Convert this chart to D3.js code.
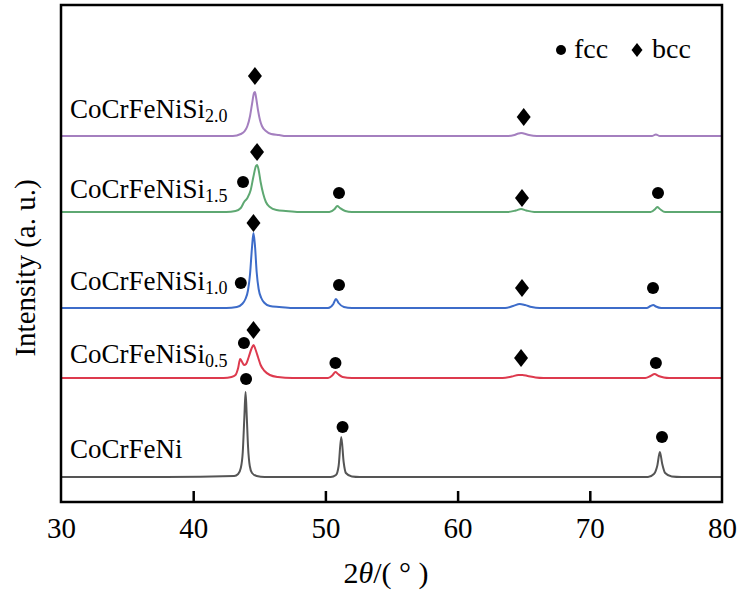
<!DOCTYPE html>
<html>
<head>
<meta charset="utf-8">
<script src="https://cdn.jsdelivr.net/npm/d3@7"></script>
<style>
  html, body { margin: 0; padding: 0; background: #fff; }
  svg { display: block; }
  text { font-family: "Liberation Serif", "Times New Roman", serif; fill: #000; }
</style>
</head>
<body>
<svg id="chart" width="742" height="594"></svg>
<script>
// X-ray diffraction patterns of CoCrFeNiSi_x alloys (stacked, arbitrary units)

const xTicks = [30, 40, 50, 60, 70, 80];

const sampleNames = ["CoCrFeNi", "CoCrFeNiSi", "CoCrFeNiSi", "CoCrFeNiSi", "CoCrFeNiSi"];
const sampleSubs  = ["", "0.5", "1.0", "1.5", "2.0"];
const sampleColors = ["#555555", "#dd3a4e", "#3d6cc9", "#5ea872", "#a47fbf"];
const labelY = [44, 139, 212, 304, 384];

// [2θ, intensity] pairs for each pattern (already offset for stacking)
const patternCoCrFeNi = [
  [30, 25], [38, 25], [43.1, 26], [43.4, 28], [43.6, 34], [43.75, 50], [43.87, 85], [43.96, 110],
  [44.05, 86], [44.15, 55], [44.28, 36], [44.45, 29], [44.8, 26], [45.4, 25], [50.4, 25],
  [50.8, 27], [51.0, 36], [51.2, 65], [51.38, 40], [51.55, 29], [52.0, 25.5], [52.6, 25],
  [74.4, 25], [74.85, 28], [75.1, 36], [75.3, 50], [75.48, 38], [75.7, 29], [76.2, 25.5], [76.9, 25], [80, 25]
];
const patternSi05 = [
  [30, 124], [42.3, 124], [42.9, 125], [43.2, 127], [43.4, 134], [43.55, 143], [43.7, 140],
  [43.85, 137], [44.0, 138], [44.2, 145], [44.4, 153], [44.56, 157], [44.7, 153], [44.9, 145],
  [45.1, 137], [45.4, 131], [45.8, 127], [46.4, 125], [47.5, 124], [50.2, 124], [50.55, 127],
  [50.76, 130], [50.95, 128], [51.3, 125], [52, 124], [63.4, 124], [64.1, 125.5], [64.6, 127],
  [64.9, 127], [65.3, 126], [65.9, 124.5], [66.5, 124], [74.2, 124], [74.6, 126], [74.9, 128],
  [75.2, 126], [75.6, 124.5], [76, 124], [80, 124]
];
const patternSi10 = [
  [30, 194], [42.5, 194], [43.3, 195], [43.7, 198], [43.95, 203], [44.15, 212], [44.3, 228],
  [44.45, 255], [44.56, 269], [44.68, 255], [44.8, 230], [44.95, 213], [45.15, 204], [45.4, 199],
  [45.8, 196], [46.5, 195], [47.5, 194], [50.2, 194], [50.6, 198], [50.8, 203], [51.0, 199],
  [51.4, 195], [52, 194], [63.6, 194], [64.2, 196], [64.7, 198], [65.1, 197], [65.6, 195],
  [66.2, 194], [74.3, 194], [74.6, 196], [74.8, 197], [75, 195.5], [75.4, 194], [80, 194]
];
const patternSi15 = [
  [30, 290], [42.5, 290], [43.2, 291], [43.6, 294], [43.85, 300], [44.1, 304], [44.35, 312],
  [44.55, 325], [44.75, 336], [44.83, 337], [44.95, 332], [45.1, 320], [45.3, 308], [45.5, 300],
  [45.8, 295], [46.3, 292], [47, 291], [48, 290], [50.3, 290], [50.7, 293], [50.9, 296],
  [51.1, 294], [51.5, 291], [52, 290], [63.8, 290], [64.4, 291.5], [64.8, 293], [65.2, 291.5],
  [65.8, 290], [74.6, 290], [74.95, 293], [75.1, 295], [75.3, 293], [75.7, 290], [80, 290]
];
const patternSi20 = [
  [30, 366], [43, 366], [43.6, 368], [43.9, 371], [44.1, 376], [44.3, 386], [44.45, 398],
  [44.6, 409], [44.67, 410], [44.75, 405], [44.9, 392], [45.05, 382], [45.2, 376], [45.5, 371],
  [45.9, 368], [46.5, 367], [47, 366], [63.8, 366], [64.3, 367], [64.6, 368.5], [64.8, 369],
  [65.0, 368.5], [65.4, 367], [66, 366], [74.7, 366], [75, 367.5], [75.3, 366], [80, 366]
];
const patterns = [patternCoCrFeNi, patternSi05, patternSi10, patternSi15, patternSi20];

// phase markers: [2θ, intensity]
const fccMarks = [
  [44.0, 123], [51.3, 75], [75.46, 65],
  [43.84, 159], [50.76, 139], [75.0, 139],
  [43.6, 219], [51.03, 217], [74.78, 214],
  [43.77, 320], [51.03, 309], [75.16, 309]
];
const bccMarks = [
  [44.56, 172], [64.8, 144],
  [44.56, 279], [64.87, 214],
  [44.83, 350], [64.87, 304],
  [44.67, 426], [65.0, 385]
];

const legendItems = ["fcc", "bcc"];

const svg = d3.select("#chart");
const margin = { left: 61, right: 20, top: 5, bottom: 92 };
const W = 742, H = 594;
const x = d3.scaleLinear().domain([30, 80]).range([margin.left, W - margin.right]);
const y = d3.scaleLinear().domain([0, 497]).range([H - margin.bottom, margin.top]);

// patterns
const line = d3.line().x(d => x(d[0])).y(d => y(d[1])).curve(d3.curveMonotoneX);
svg.append("g").selectAll("path").data(patterns).join("path")
  .attr("d", line)
  .attr("fill", "none")
  .attr("stroke", (d, i) => sampleColors[i])
  .attr("stroke-width", 2)
  .attr("stroke-linejoin", "round");

// frame
svg.append("rect")
  .attr("x", x(30)).attr("y", y(497))
  .attr("width", x(80) - x(30)).attr("height", y(0) - y(497))
  .attr("fill", "none").attr("stroke", "#000").attr("stroke-width", 2.5);

// bottom axis with inward ticks
const xAxis = d3.axisBottom(x).tickValues(xTicks).tickSizeInner(-11).tickSizeOuter(0).tickPadding(0);
const gx = svg.append("g").attr("transform", `translate(0,${y(0)})`).call(xAxis)
  .attr("font-family", null).attr("font-size", null);
gx.select(".domain").remove();
gx.selectAll(".tick line").attr("stroke", "#000").attr("stroke-width", 2.5)
  .attr("display", d => (d === 30 || d === 80) ? "none" : null);
gx.selectAll(".tick text")
  .attr("y", 36).attr("dy", 0)
  .style("font-size", "29px").attr("fill", "#000");

// sample labels
const lab = svg.append("g").selectAll("text").data(sampleNames).join("text")
  .attr("x", 70).attr("y", (d, i) => y(labelY[i]))
  .style("font-size", "27px");
lab.append("tspan").text(d => d);
lab.append("tspan").text((d, i) => sampleSubs[i])
  .attr("dy", 4).style("font-size", "18px");

// markers
const diamond = "M0,-9L7,0L0,9L-7,0Z";
svg.append("g").selectAll("circle").data(fccMarks).join("circle")
  .attr("cx", d => x(d[0])).attr("cy", d => y(d[1])).attr("r", 6).attr("fill", "#000");
svg.append("g").selectAll("path").data(bccMarks).join("path")
  .attr("d", diamond)
  .attr("transform", d => `translate(${x(d[0])},${y(d[1])})`)
  .attr("fill", "#000");

// legend
const lg = svg.append("g").attr("transform", "translate(561,50)");
lg.append("circle").attr("cx", 0).attr("cy", 0).attr("r", 5).attr("fill", "#000");
lg.append("text").attr("x", 13).attr("y", 8).style("font-size", "28px").text(legendItems[0]);
lg.append("path").attr("d", "M0,-7L5.5,0L0,7L-5.5,0Z").attr("transform", "translate(76,0)").attr("fill", "#000");
lg.append("text").attr("x", 91).attr("y", 8).style("font-size", "28px").text(legendItems[1]);

// axis titles
const xt = svg.append("text").attr("x", 386).attr("y", 583)
  .attr("text-anchor", "middle").style("font-size", "30px");
xt.append("tspan").text("2");
xt.append("tspan").text("θ").style("font-style", "italic");
xt.append("tspan").text("/( ° )");

svg.append("text")
  .attr("transform", "translate(35,268) rotate(-90)")
  .attr("text-anchor", "middle").style("font-size", "29px")
  .text("Intensity (a. u.)");
</script>
</body>
</html>
